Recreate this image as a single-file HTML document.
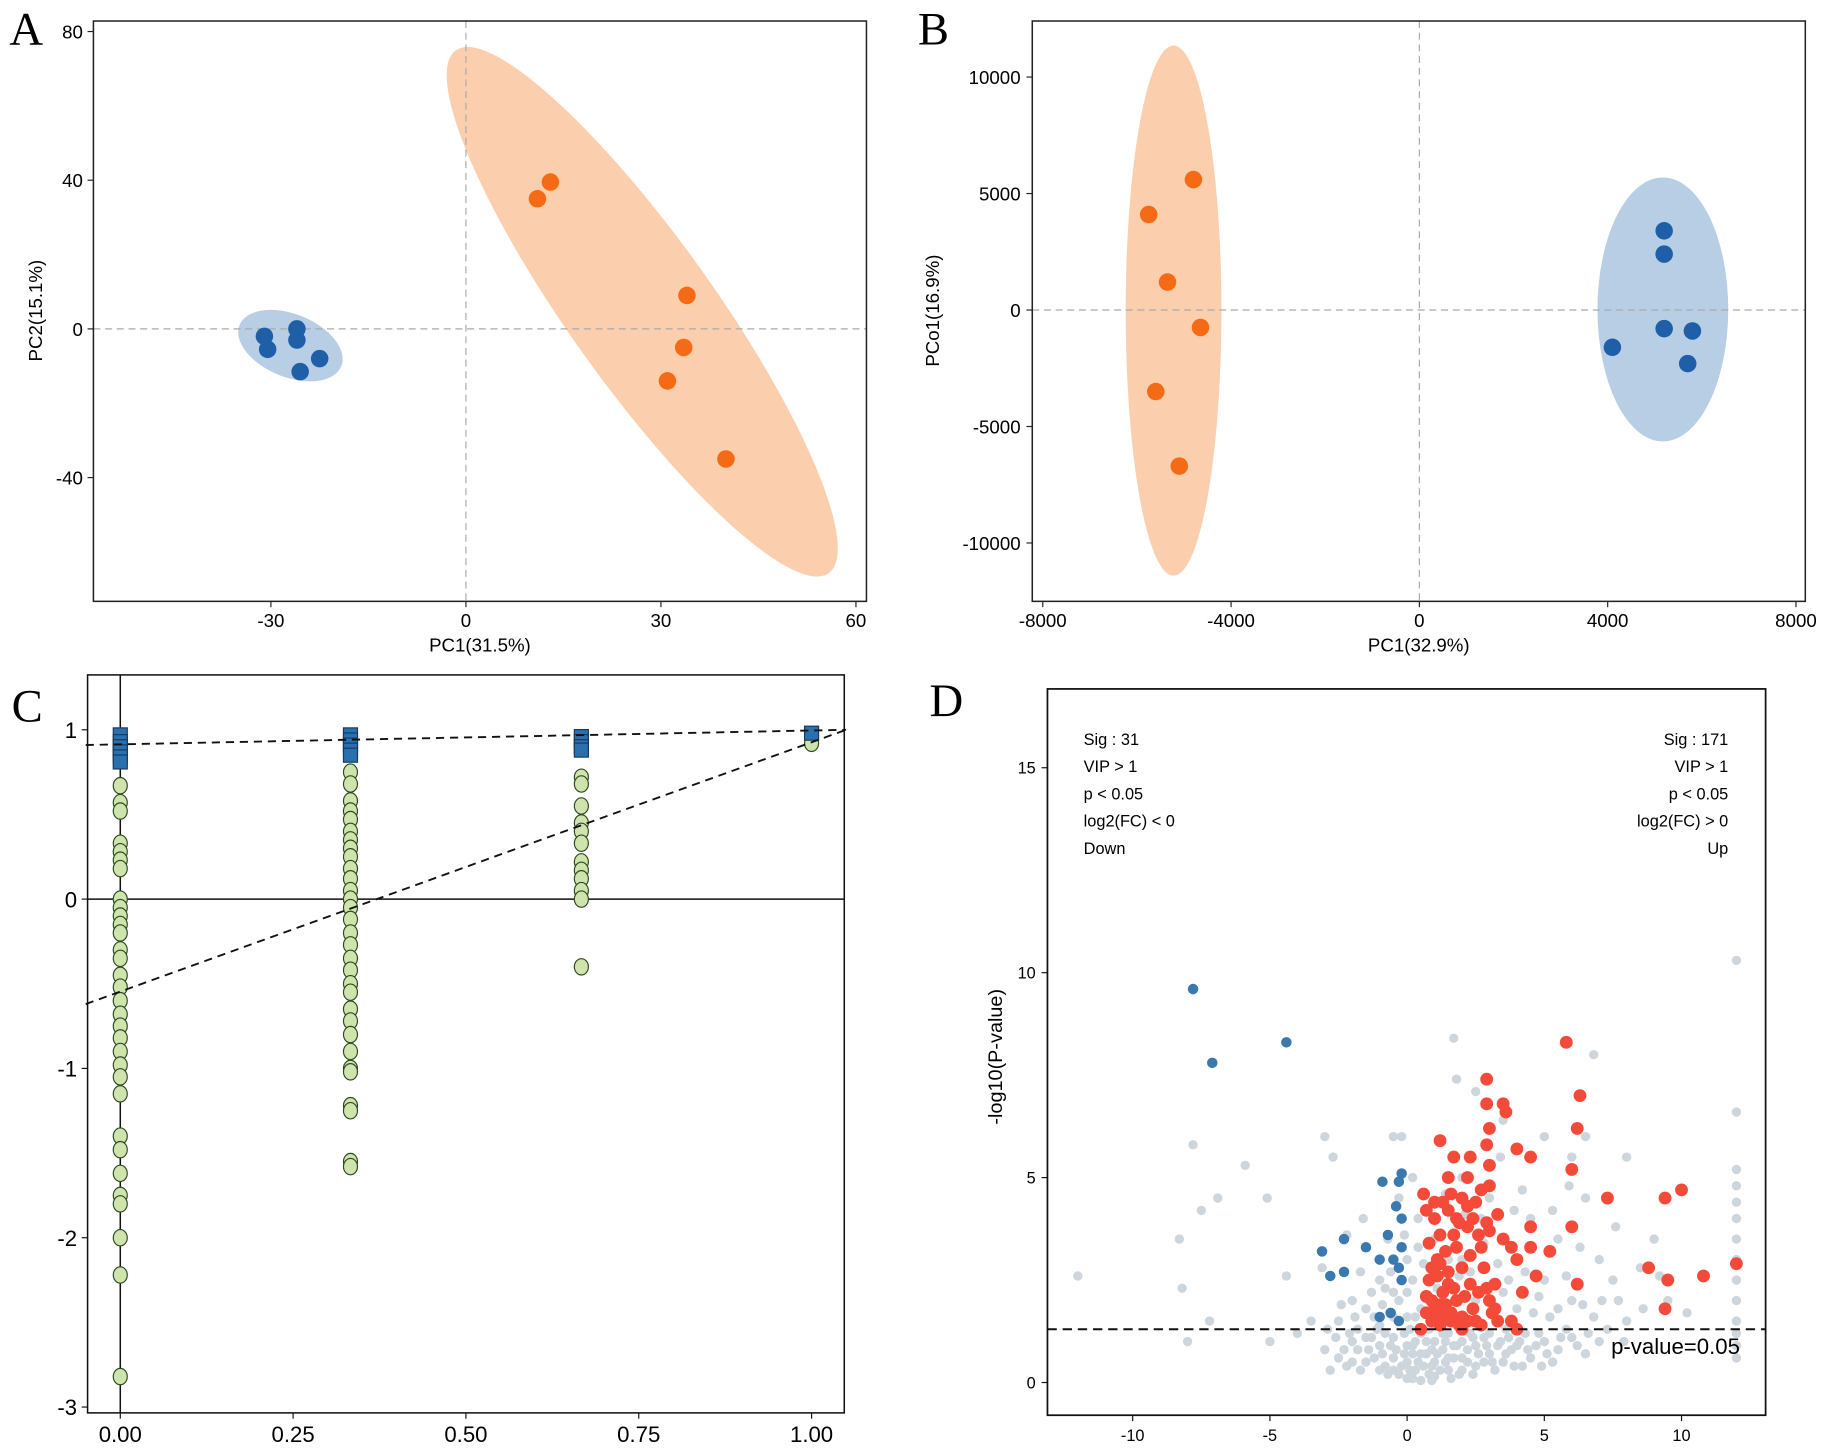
<!DOCTYPE html>
<html><head><meta charset="utf-8"><style>
html,body{margin:0;padding:0;background:#fff}
svg{display:block}
text{font-family:"Liberation Sans",sans-serif}
text.serif{font-family:"Liberation Serif",serif}
</style></head><body>
<svg id="fig" width="1831" height="1452" viewBox="0 0 1568 1243.5" preserveAspectRatio="none" xmlns="http://www.w3.org/2000/svg"></svg>
<script>
// ---------- Panel A data ----------
const aTicksX=[-30,0,30,60];
const aTicksY=[80,40,0,-40];
const aBlueX=[-31,-30.5,-26,-26,-25.5,-22.5];
const aBlueY=[-2,-5.5,0,-3,-11.5,-8];
const aOrangeX=[11,13,34,33.5,31,40];
const aOrangeY=[35,39.5,9,-5,-14,-35];
// ---------- Panel B data ----------
const bTicksX=[-8000,-4000,0,4000,8000];
const bTicksY=[10000,5000,0,-5000,-10000];
const bOrangeX=[-4800,-5750,-5350,-4650,-5600,-5100];
const bOrangeY=[5600,4100,1200,-750,-3500,-6700];
const bBlueX=[5200,5200,5200,5800,4100,5700];
const bBlueY=[3400,2400,-800,-900,-1600,-2300];
// ---------- Panel C data ----------
const cTicksX=[0,0.25,0.5,0.75,1.0];
const cTickLabelsX=["0.00","0.25","0.50","0.75","1.00"];
const cTicksY=[1,0,-1,-2,-3];
const cR2X=[0,0,0,0,0,0,0.333,0.333,0.333,0.333,0.333,0.667,0.667,0.667,0.667,1.0];
const cR2Y=[0.97,0.93,0.9,0.87,0.84,0.81,0.97,0.94,0.91,0.88,0.85,0.96,0.93,0.9,0.88,0.98];
const cQ0=[0.67,0.57,0.52,0.33,0.28,0.23,0.18,0.0,-0.05,-0.1,-0.15,-0.2,-0.3,-0.35,-0.45,-0.52,-0.6,-0.68,-0.75,-0.82,-0.9,-0.98,-1.05,-1.15,-1.4,-1.48,-1.62,-1.75,-1.8,-2.0,-2.22,-2.82];
const cQ1=[0.75,0.68,0.58,0.52,0.47,0.4,0.35,0.3,0.25,0.18,0.12,0.05,0.0,-0.05,-0.12,-0.2,-0.27,-0.35,-0.42,-0.5,-0.55,-0.65,-0.72,-0.8,-0.9,-1.0,-1.02,-1.22,-1.25,-1.55,-1.58];
const cQ2=[0.72,0.68,0.55,0.45,0.4,0.33,0.22,0.17,0.12,0.05,0.0,-0.4];
const cQ3=[0.92];
const cR2Line=[0.91,1.0];
const cQ2Line=[-0.62,1.0];
// ---------- Panel D data ----------
const dTicksX=[-10,-5,0,5,10];
const dTicksY=[0,5,10,15];
const dGrey=[[-3,0.8],[-2.5,0.6],[-2,1.0],[-1.5,0.5],[-1,0.9],[-1,0.3],[-0.5,0.6],[-0.5,1.1],[0,0.1],[0,0.5],[0,0.9],[0.3,0.3],[0.5,0.7],[0.5,1.2],[0.8,0.2],[1,0.5],[1,1.0],[1.3,0.8],[1.5,0.3],[1.5,1.2],[2,0.6],[2,1.0],[2.5,0.4],[2.5,0.9],[3,0.7],[3,1.2],[3.5,0.5],[4,0.9],[4.5,0.6],[5,1.0],[5.5,0.8],[6,1.1],[6.5,0.7],[7,1.0],[-2.5,1.5],[-2,2.0],[-1.5,1.8],[-1,2.5],[-0.7,3.5],[-0.5,2.2],[-0.3,4.5],[0,1.6],[0,3.0],[0.2,2.5],[0.5,1.8],[1,3.5],[1.2,1.7],[2,3.0],[2,5.0],[2.5,2.0],[3,4.5],[3.5,2.2],[4,3.0],[4,1.8],[4.5,4.0],[5,2.5],[5.5,3.5],[6,2.0],[6,5.5],[6.5,4.5],[7,3.0],[7.5,2.5],[8,1.5],[8.5,2.8],[9,3.5],[9.5,2.0],[-3,6.0],[-2.7,5.5],[-0.5,6.0],[-0.2,6.0],[1.7,8.4],[1.8,7.4],[2.5,7.1],[3.5,6.4],[5,6.0],[6.5,6.0],[6.8,8.0],[8,5.5],[12,10.3],[12,6.6],[12,5.2],[12,4.8],[12,4.4],[12,4.0],[12,3.5],[12,3.0],[12,2.5],[12,2.0],[12,1.5],[12,1.2],[12,0.9],[12,0.6],[-12,2.6],[-8.3,3.5],[-8.2,2.3],[-7.8,5.8],[-7.5,4.2],[-7.2,1.5],[-6.9,4.5],[-5.9,5.3],[-5.1,4.5],[-4.4,2.6],[-3.1,2.8],[-2.2,3.6],[-1.6,4.0],[-3.5,1.5],[-4,1.2],[-5,1.0],[-8,1.0],[-2.8,0.3],[-2.2,0.4],[-1.8,0.8],[-1.2,0.6],[-0.8,0.4],[-0.3,0.2],[0.2,0.7],[0.6,0.4],[0.9,0.8],[1.2,0.3],[1.7,0.6],[1.9,0.2],[2.2,0.8],[2.8,0.5],[3.2,0.3],[3.8,0.8],[4.2,0.4],[4.8,1.2],[5.3,0.5],[5.8,1.3],[-1.8,1.3],[-1.3,1.1],[-0.8,1.2],[0.3,1.0],[0.7,1.0],[1.4,1.0],[1.8,0.9],[2.3,1.2],[2.8,1.1],[3.3,0.9],[3.7,1.1],[4.3,1.2],[-0.2,0.4],[0.2,0.1],[0.5,0.05],[1.0,0.15],[-0.6,0.9],[0.1,1.3],[1.1,2.3],[1.9,2.6],[0.4,3.3],[2.7,4.0],[3.9,4.2],[4.8,2.1],[5.5,1.8],[6.8,1.6],[7.3,1.3],[-1.3,2.2],[-0.9,1.9],[-1.7,2.7],[5.9,4.8],[7.6,3.8],
[-2.6,1.1],[-2.3,0.8],[-2.0,0.5],[-1.7,0.3],[-1.4,0.8],[-1.1,1.3],[-0.9,0.7],[-0.7,0.2],[-0.4,0.8],[-0.1,0.7],[0.1,0.3],[0.4,0.5],[0.7,0.7],[0.9,0.4],[1.1,0.7],[1.3,1.2],[1.5,0.6],[1.7,0.9],[2.0,0.3],[2.2,0.5],[2.4,1.1],[2.6,0.7],[2.9,0.9],[3.1,0.5],[3.4,1.0],[3.6,0.7],[3.9,0.4],[4.1,1.0],[4.4,0.8],[4.7,0.9],[5.1,0.7],[5.6,1.1],[6.2,0.9],[-2.9,1.3],[-2.4,1.9],[-1.9,1.6],[-1.2,1.6],[-0.8,2.3],[-0.5,1.6],[-0.3,2.0],[-0.1,1.2],[0.0,2.2],[0.3,1.6],[0.6,2.9],[0.4,4.0],[0.2,5.0],[-0.1,3.6],[-0.6,2.7],[1.0,2.7],[1.5,3.0],[2.3,2.7],[2.8,3.4],[3.3,2.9],[3.7,2.5],[4.3,2.7],[4.6,1.7],[5.2,1.6],[5.8,2.6],[6.4,1.9],[7.1,2.0],[-1.5,1.1],[-1.0,1.4],[-0.3,1.5],[0.2,0.9],[0.8,1.3],[1.6,0.1],[2.4,0.2],[-0.5,0.3],[0.9,0.05],[1.4,0.5],[-2.1,1.2],[3.6,1.3],[4.9,0.4],[6.6,1.2],[7.9,1.0],[2.1,4.1],[1.4,4.6],[3.4,5.5],[4.2,4.7],[5.3,4.2],[6.3,3.3],[7.7,2.0],[8.6,1.8],[9.2,2.6],[10.2,1.7]];
const dRed=[[1.2,1.4],[1,1.8],[1.3,2.2],[0.8,2.5],[1.5,2.7],[1.1,3.0],[1.8,2.0],[2,1.6],[2.3,2.4],[0.9,1.5],[1.6,1.5],[2.5,1.5],[3,2.0],[3.2,2.4],[2.8,2.8],[2.3,3.1],[1.8,3.3],[1.2,3.6],[1.0,4.0],[1.5,4.2],[2.0,4.5],[2.5,4.4],[2.2,3.8],[3.0,3.7],[3.5,3.5],[2.7,3.3],[3.8,3.3],[4.0,3.0],[4.5,3.8],[4.5,3.3],[4.7,2.6],[3.0,4.8],[1.5,5.0],[2.3,5.5],[2.9,5.8],[3.0,5.3],[3.0,6.2],[2.9,6.8],[3.5,6.8],[3.6,6.6],[2.9,7.4],[4,5.7],[4.5,5.5],[5.8,8.3],[6.3,7.0],[6.0,5.2],[6.2,6.2],[7.3,4.5],[6.0,3.8],[5.2,3.2],[6.2,2.4],[3.2,1.8],[3.8,1.5],[4.2,2.2],[9.4,4.5],[10.0,4.7],[8.8,2.8],[9.5,2.5],[10.8,2.6],[12,2.9],[9.4,1.8],[0.6,4.6],[1.2,5.9],[1.7,5.5],[2.2,5.0],[1.2,1.9],[0.5,1.3],[2.0,1.3],[2.7,1.4],[4.0,1.3],[1.5,2.4],[2.0,2.8],[0.7,2.1],[1.7,3.6],[2.6,2.2],[3.3,1.5],
[0.9,2.0],[1.1,2.6],[1.4,1.9],[1.7,2.3],[1.0,1.6],[1.4,3.2],[0.8,3.4],[1.3,4.4],[1.8,4.0],[2.4,4.0],[2.6,3.6],[2.1,2.1],[2.4,1.8],[2.9,2.3],[1.6,1.7],[0.7,1.7],[1.9,1.4],[1.2,2.9],[2.2,4.3],[2.7,4.7],[1.9,3.9],[1.0,4.4],[0.7,4.2],[1.6,4.6],[0.9,2.8],[1.3,1.6],[2.2,1.5],[3.1,1.7],[2.9,3.9],[3.3,4.1]];
const dBlue=[[-7.8,9.6],[-7.1,7.8],[-4.4,8.3],[-3.1,3.2],[-2.8,2.6],[-2.3,3.5],[-2.3,2.7],[-1.5,3.3],[-1.0,3.0],[-0.7,3.6],[-0.3,4.9],[-0.2,5.1],[-0.4,4.3],[-0.2,4.0],[-0.2,3.3],[-0.3,2.8],[-0.5,3.0],[-0.9,4.9],[-1.0,1.6],[-0.3,1.5],[-0.6,1.7],[-0.2,2.5]];
const dThreshold=1.3;

const NS="http://www.w3.org/2000/svg";
const svg=document.getElementById('fig');
function mk(tag,attrs,parent){const e=document.createElementNS(NS,tag);for(const k in attrs)e.setAttribute(k,attrs[k]);(parent||svg).appendChild(e);return e;}
function txt(s,attrs,parent){const e=mk('text',attrs,parent);e.textContent=s;return e;}
function lin(d0,d1,r0,r1){return v=>r0+(v-d0)/(d1-d0)*(r1-r0);}

// ===== Panel A =====
{
const g=mk('g',{});
const X=lin(-30,60,232,733),Y=lin(80,-40,27,409);
const e1=mk('ellipse',{cx:X(-27),cy:Y(-4.5),rx:47,ry:27,transform:`rotate(22 ${X(-27)} ${Y(-4.5)})`,fill:'#b7cee4'},g);

const e2=mk('ellipse',{cx:550,cy:267,rx:275,ry:62,transform:'rotate(54.5 550 267)',fill:'#fbcfad'},g);

mk('line',{x1:X(0),x2:X(0),y1:18,y2:515,stroke:'#aaa','stroke-dasharray':'6 4'},g);
mk('line',{x1:80,x2:742,y1:Y(0),y2:Y(0),stroke:'#aaa','stroke-dasharray':'6 4'},g);
aBlueX.forEach((v,i)=>{const c=mk('circle',{cx:X(v),cy:Y(aBlueY[i]),r:7.5,fill:'#1f5fa8'},g);});
aOrangeX.forEach((v,i)=>{const c=mk('circle',{cx:X(v),cy:Y(aOrangeY[i]),r:7.5,fill:'#f56a14'},g);});
mk('rect',{x:80,y:18,width:662,height:497,fill:'none',stroke:'#222','stroke-width':1.3},g);
aTicksX.forEach(v=>{mk('line',{x1:X(v),x2:X(v),y1:515,y2:520,stroke:'#222'},g);const t=txt(String(v),{x:X(v),y:537,'text-anchor':'middle','font-size':16},g);});
aTicksY.forEach(v=>{mk('line',{x1:75,x2:80,y1:Y(v),y2:Y(v),stroke:'#222'},g);const t=txt(String(v),{x:71,y:Y(v)+6,'text-anchor':'end','font-size':16},g);});
const xt=txt('PC1(31.5%)',{x:411,y:558,'text-anchor':'middle','font-size':16},g);
const yt=txt('PC2(15.1%)',{x:36,y:266,'text-anchor':'middle','font-size':16,transform:'rotate(-90 36 266)'},g);
const lb=txt('A',{x:8,y:38,'font-size':40,class:'serif'},g);
}
// ===== Panel B =====
{
const g=mk('g',{});
const X=lin(-8000,8000,893,1538),Y=lin(10000,-10000,66,465);
const e1=mk('ellipse',{cx:1005,cy:266,rx:41,ry:227,fill:'#fbcfad'},g);
const e2=mk('ellipse',{cx:1424,cy:265,rx:56,ry:113,fill:'#b7cee4'},g);
mk('line',{x1:X(0),x2:X(0),y1:18,y2:515,stroke:'#aaa','stroke-dasharray':'6 4'},g);
mk('line',{x1:884,x2:1546,y1:Y(0),y2:Y(0),stroke:'#aaa','stroke-dasharray':'6 4'},g);
bOrangeX.forEach((v,i)=>{const c=mk('circle',{cx:X(v),cy:Y(bOrangeY[i]),r:7.5,fill:'#f56a14'},g);});
bBlueX.forEach((v,i)=>{const c=mk('circle',{cx:X(v),cy:Y(bBlueY[i]),r:7.5,fill:'#1f5fa8'},g);});
mk('rect',{x:884,y:18,width:662,height:497,fill:'none',stroke:'#222','stroke-width':1.3},g);
bTicksX.forEach(v=>{mk('line',{x1:X(v),x2:X(v),y1:515,y2:520,stroke:'#222'},g);const t=txt(String(v),{x:X(v),y:537,'text-anchor':'middle','font-size':16},g);});
bTicksY.forEach(v=>{mk('line',{x1:879,x2:884,y1:Y(v),y2:Y(v),stroke:'#222'},g);const t=txt(String(v),{x:874,y:Y(v)+6,'text-anchor':'end','font-size':16},g);});
const xt=txt('PC1(32.9%)',{x:1215,y:558,'text-anchor':'middle','font-size':16},g);
const yt=txt('PCo1(16.9%)',{x:804,y:266,'text-anchor':'middle','font-size':16,transform:'rotate(-90 804 266)'},g);
const lb=txt('B',{x:786,y:38,'font-size':40,class:'serif'},g);
}
// ===== Panel C =====
{
const g=mk('g',{});
const X=lin(0,1,103,695),Y=lin(1,-3,625,1205);
mk('line',{x1:X(0),x2:X(0),y1:578,y2:1210,stroke:'#111','stroke-width':1.3},g);
mk('line',{x1:75,x2:723,y1:Y(0),y2:Y(0),stroke:'#111','stroke-width':1.3},g);
const qs=[cQ0,cQ1,cQ2,cQ3],qx=[0,0.333,0.667,1.0];
qs.forEach((arr,j)=>arr.forEach(v=>{const c=mk('ellipse',{cx:X(qx[j]),cy:Y(v),rx:6,ry:7,fill:'#cfe3ad',stroke:'#2c4a22','stroke-width':1},g);}));
cR2X.forEach((v,i)=>{const r=mk('rect',{x:X(v)-6,y:Y(cR2Y[i])-6,width:12,height:12,fill:'#2a6fae',stroke:'#163a5c','stroke-width':1},g);});
const l1=mk('line',{x1:X(-0.05),y1:Y(cR2Line[0]),x2:X(1.05),y2:Y(cR2Line[1]),stroke:'#111','stroke-width':1.6,'stroke-dasharray':'7 5'},g);
const l2=mk('line',{x1:X(-0.05),y1:Y(cQ2Line[0]),x2:X(1.05),y2:Y(cQ2Line[1]),stroke:'#111','stroke-width':1.6,'stroke-dasharray':'7 5'},g);
mk('rect',{x:75,y:578,width:648,height:632,fill:'none',stroke:'#111','stroke-width':1.3},g);
cTicksX.forEach((v,i)=>{mk('line',{x1:X(v),x2:X(v),y1:1210,y2:1215,stroke:'#111'},g);const t=txt(cTickLabelsX[i],{x:X(v),y:1235,'text-anchor':'middle','font-size':19},g);});
cTicksY.forEach(v=>{mk('line',{x1:70,x2:75,y1:Y(v),y2:Y(v),stroke:'#111'},g);const t=txt(String(v),{x:66,y:Y(v)+7,'text-anchor':'end','font-size':19},g);});
const lb=txt('C',{x:10,y:618,'font-size':40,class:'serif'},g);
}
// ===== Panel D =====
{
const g=mk('g',{});
const X=lin(0,10,1205,1440),Y=lin(0,10,1184,833);
dGrey.forEach(p=>{const c=mk('circle',{cx:X(p[0]),cy:Y(p[1]),r:4,fill:'#cdd5dd'},g);});
dBlue.forEach(p=>{const c=mk('circle',{cx:X(p[0]),cy:Y(p[1]),r:4.5,fill:'#3a78b0'},g);});
dRed.forEach(p=>{const c=mk('circle',{cx:X(p[0]),cy:Y(p[1]),r:5.5,fill:'#f44a3a'},g);});
const th=mk('line',{x1:897,x2:1512,y1:Y(dThreshold),y2:Y(dThreshold),stroke:'#111','stroke-width':1.8,'stroke-dasharray':'8 5'},g);
const pt=txt('p-value=0.05',{x:1490,y:Y(dThreshold)+21,'text-anchor':'end','font-size':19},g);
mk('rect',{x:897,y:590,width:615,height:622,fill:'none',stroke:'#111','stroke-width':1.5},g);
dTicksX.forEach(v=>{mk('line',{x1:X(v),x2:X(v),y1:1212,y2:1217,stroke:'#111'},g);const t=txt(String(v),{x:X(v),y:1234,'text-anchor':'middle','font-size':14},g);});
dTicksY.forEach(v=>{mk('line',{x1:892,x2:897,y1:Y(v),y2:Y(v),stroke:'#111'},g);const t=txt(String(v),{x:887,y:Y(v)+5,'text-anchor':'end','font-size':14},g);});
const yt=txt('-log10(P-value)',{x:858,y:905,'text-anchor':'middle','font-size':17,transform:'rotate(-90 858 905)'},g);
const left=['Sig : 31','VIP > 1','p < 0.05','log2(FC) < 0','Down'];
const right=['Sig : 171','VIP > 1','p < 0.05','log2(FC) > 0','Up'];
left.forEach((s,i)=>{const t=txt(s,{x:928,y:638+i*23.3,'font-size':14},g);});
right.forEach((s,i)=>{const t=txt(s,{x:1480,y:638+i*23.3,'font-size':14,'text-anchor':'end'},g);});
const lb=txt('D',{x:796,y:613,'font-size':40,class:'serif'},g);
}
</script>
</body></html>
